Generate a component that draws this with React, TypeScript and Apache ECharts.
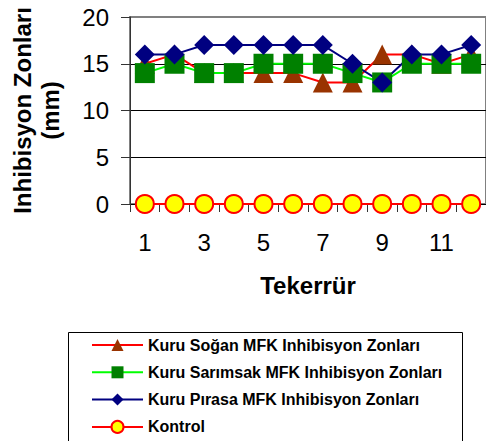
import React, { useEffect, useRef } from "react";
import * as echarts from "echarts";

const categories = ["1", "2", "3", "4", "5", "6", "7", "8", "9", "10", "11", "12"];
const soganValues = [15, 16, 14, 14, 14, 14, 13, 13, 16, 16, 15, 16];
const sarimsakValues = [14, 15, 14, 14, 15, 15, 15, 14, 13, 15, 15, 15];
const pirasaValues = [16, 16, 17, 17, 17, 17, 17, 15, 13, 16, 16, 17];
const kontrolValues = [0, 0, 0, 0, 0, 0, 0, 0, 0, 0, 0, 0];

const seriesNames = [
  "Kuru Soğan MFK Inhibisyon Zonları",
  "Kuru Sarımsak MFK Inhibisyon Zonları",
  "Kuru Pırasa MFK Inhibisyon Zonları",
  "Kontrol",
];

const FONT = "'Liberation Sans', Arial, sans-serif";

export default function App() {
  const ref = useRef<HTMLDivElement>(null);

  useEffect(() => {
    if (!ref.current) return;
    const chart = echarts.init(ref.current, null, { renderer: "svg" });
    chart.setOption({
      animation: false,
      backgroundColor: "#ffffff",
      textStyle: { fontFamily: FONT },
      grid: {
        left: 128,
        top: 17,
        right: -11,
        bottom: 237,
        show: true,
        borderColor: "#808080",
        borderWidth: 2,
        backgroundColor: "transparent",
      },
      legend: {
        orient: "vertical",
        left: 91,
        top: 337,
        padding: 0,
        itemWidth: 51,
        itemHeight: 15,
        itemGap: 11.3,
        textStyle: {
          fontFamily: FONT,
          fontSize: 16,
          fontWeight: "bold",
          color: "#000",
          lineHeight: 16,
        },
        data: seriesNames,
      },
      graphic: [
        {
          type: "rect",
          shape: { x: 68.5, y: 332.5, width: 394, height: 200 },
          style: { fill: "none", stroke: "#000", lineWidth: 1 },
          silent: true,
        },
      ],
      xAxis: {
        type: "category",
        data: categories,
        boundaryGap: true,
        name: "Tekerrür",
        nameLocation: "middle",
        nameGap: 69,
        nameTextStyle: {
          fontFamily: FONT,
          fontSize: 24,
          fontWeight: "bold",
          color: "#000",
        },
        axisLine: { show: true, lineStyle: { color: "#000", width: 1 } },
        axisTick: {
          show: true,
          interval: 0,
          alignWithLabel: false,
          length: 8,
          lineStyle: { color: "#333" },
        },
        axisLabel: {
          interval: 1,
          fontFamily: FONT,
          fontSize: 24,
          color: "#000",
          margin: 26,
        },
        splitLine: { show: false },
      },
      yAxis: {
        type: "value",
        min: 0,
        max: 20,
        interval: 5,
        name: "Inhibisyon Zonları\n(mm)",
        nameLocation: "middle",
        nameRotate: 90,
        nameGap: 66,
        nameTextStyle: {
          fontFamily: FONT,
          fontSize: 24,
          fontWeight: "bold",
          color: "#000",
          lineHeight: 28,
        },
        axisLine: { show: true, lineStyle: { color: "#333", width: 1 } },
        axisTick: { show: true, length: 9, lineStyle: { color: "#333" } },
        axisLabel: {
          fontFamily: FONT,
          fontSize: 24,
          color: "#000",
          margin: 21,
        },
        splitLine: {
          show: true,
          lineStyle: {
            color: ["#000", "#000", "#000", "#000", "#808080"],
            width: 1,
          },
        },
      },
      series: [
        {
          name: seriesNames[0],
          type: "line",
          data: soganValues,
          symbol: "triangle",
          symbolSize: 20,
          showSymbol: true,
          showAllSymbol: true,
          clip: false,
          lineStyle: { color: "#FF0000", width: 2 },
          itemStyle: { color: "#993300" },
        },
        {
          name: seriesNames[1],
          type: "line",
          data: sarimsakValues,
          symbol: "rect",
          symbolSize: 20,
          showSymbol: true,
          showAllSymbol: true,
          clip: false,
          lineStyle: { color: "#00FF00", width: 2 },
          itemStyle: { color: "#008000" },
        },
        {
          name: seriesNames[2],
          type: "line",
          data: pirasaValues,
          symbol: "diamond",
          symbolSize: 20,
          showSymbol: true,
          showAllSymbol: true,
          clip: false,
          lineStyle: { color: "#000080", width: 2 },
          itemStyle: { color: "#000080" },
        },
        {
          name: seriesNames[3],
          type: "line",
          data: kontrolValues,
          symbol: "circle",
          symbolSize: 18,
          showSymbol: true,
          showAllSymbol: true,
          clip: false,
          lineStyle: { color: "#FF0000", width: 2 },
          itemStyle: { color: "#FFFF00", borderColor: "#FF0000", borderWidth: 2 },
        },
      ],
    });
    return () => chart.dispose();
  }, []);

  return (
    <div
      ref={ref}
      style={{ position: "fixed", left: 0, top: 0, width: 486, height: 441 }}
    />
  );
}
